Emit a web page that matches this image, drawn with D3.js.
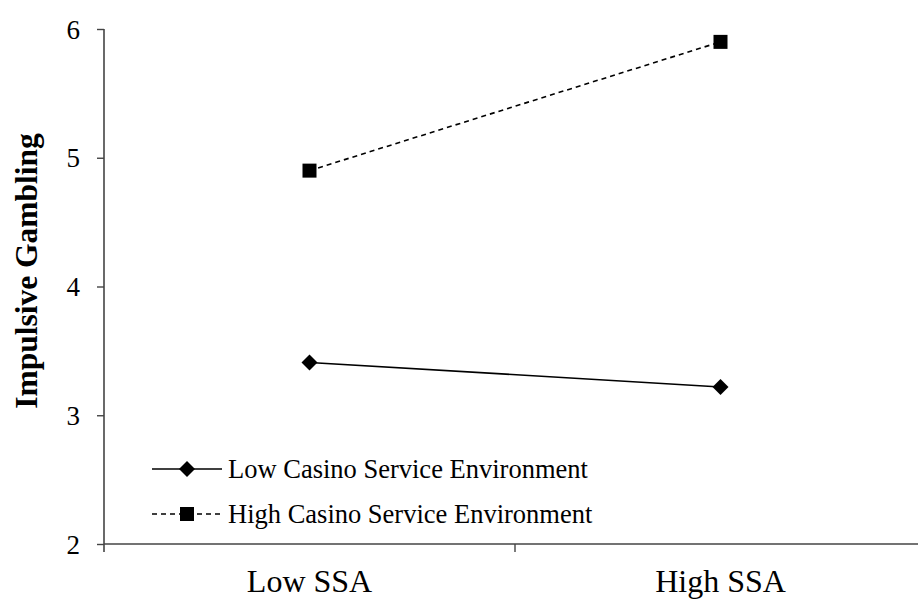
<!DOCTYPE html>
<html>
<head>
<meta charset="utf-8">
<script src="https://cdn.jsdelivr.net/npm/d3@7"></script>
<style>
  html, body { margin: 0; padding: 0; background: #fff; }
  svg { display: block; }
  text { font-family: "Liberation Serif", "Times New Roman", serif; fill: #000; }
</style>
</head>
<body>
<svg id="chart" width="918" height="599"></svg>
<script>
// Interaction plot: impulsive gambling by SSA level and casino service environment
const categories = ["Low SSA", "High SSA"];
const seriesNames = ["Low Casino Service Environment", "High Casino Service Environment"];
const lowEnvValues = [3.41, 3.22];
const highEnvValues = [4.90, 5.90];
const yTicks = [2, 3, 4, 5, 6];
const yTitle = "Impulsive Gambling";

const series = [
  { name: seriesNames[0], values: lowEnvValues, dash: null, marker: "diamond" },
  { name: seriesNames[1], values: highEnvValues, dash: "5,4", marker: "square" }
];

const svg = d3.select("#chart");
const plotLeft = 104, plotBottom = 544, plotTop = 29;

const x = d3.scaleBand().domain(categories).range([plotLeft, 926]);
const y = d3.scaleLinear().domain([2, 6]).range([plotBottom, plotTop]);

const axisColor = "#444";

// y axis
const yAxis = svg.append("g")
  .attr("transform", `translate(${plotLeft},0)`)
  .call(d3.axisLeft(y).tickValues(yTicks).tickSize(7).tickPadding(17).tickFormat(d3.format("d")));
yAxis.select(".domain").attr("d", `M0,${plotTop}V${plotBottom + 8}`).attr("stroke", axisColor).attr("stroke-width", 1.6);
yAxis.selectAll(".tick line").attr("stroke", axisColor).attr("stroke-width", 1.4);
yAxis.selectAll(".tick text").style("font-size", "27px").style("font-family", "Liberation Serif").attr("dy", "0.34em");

// x axis
const xAxis = svg.append("g")
  .attr("transform", `translate(0,${plotBottom})`)
  .call(d3.axisBottom(x).tickSize(0).tickPadding(25));
xAxis.select(".domain").attr("d", `M${plotLeft},0H918`).attr("stroke", axisColor).attr("stroke-width", 1.6);
xAxis.selectAll(".tick text").style("font-size", "32px").style("font-family", "Liberation Serif");
// boundary tick between the two categories
xAxis.append("line")
  .attr("x1", x(categories[1])).attr("x2", x(categories[1]))
  .attr("y1", 0).attr("y2", 8)
  .attr("stroke", axisColor).attr("stroke-width", 1.4);

// y title
svg.append("text")
  .attr("transform", `translate(37,271) rotate(-90)`)
  .attr("text-anchor", "middle")
  .style("font-size", "31.5px")
  .style("font-weight", "bold")
  .text(yTitle);

const cx = c => x(c) + x.bandwidth() / 2;
const line = d3.line().x((d, i) => cx(categories[i])).y(d => y(d));

function drawMarker(g, type, px, py) {
  if (type === "square") {
    g.append("rect").attr("x", px - 7).attr("y", py - 7).attr("width", 14).attr("height", 14).attr("fill", "#000");
  } else {
    g.append("path").attr("d", `M${px},${py - 8}L${px + 8},${py}L${px},${py + 8}L${px - 8},${py}Z`).attr("fill", "#000");
  }
}

const plot = svg.append("g");
series.forEach(s => {
  plot.append("path")
    .attr("d", line(s.values))
    .attr("fill", "none")
    .attr("stroke", "#000")
    .attr("stroke-width", 1.6)
    .attr("stroke-dasharray", s.dash);
  s.values.forEach((v, i) => drawMarker(plot, s.marker, cx(categories[i]), y(v)));
});

// legend
const legend = svg.append("g");
series.forEach((s, i) => {
  const ly = 469 + i * 45;
  legend.append("line")
    .attr("x1", 152).attr("x2", 222).attr("y1", ly).attr("y2", ly)
    .attr("stroke", "#000").attr("stroke-width", 1.6)
    .attr("stroke-dasharray", s.dash);
  drawMarker(legend, s.marker, 187, ly);
  legend.append("text")
    .attr("x", 228).attr("y", ly).attr("dy", "0.35em")
    .style("font-size", "26.5px")
    .text(s.name);
});
</script>
</body>
</html>
